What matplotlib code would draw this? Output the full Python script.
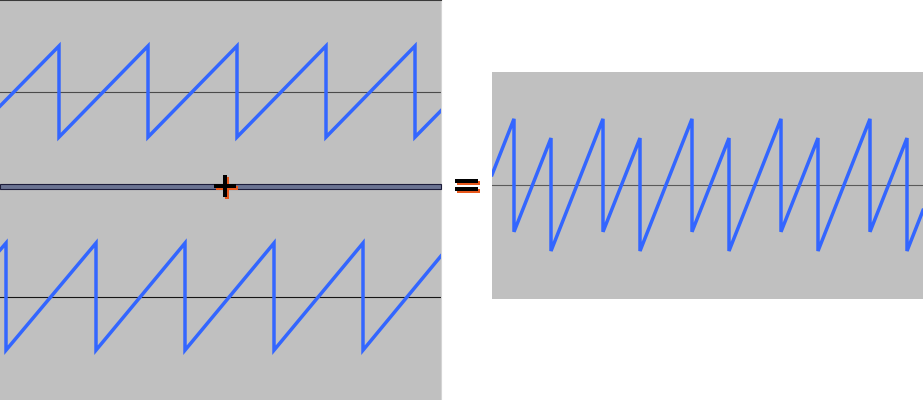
import matplotlib
matplotlib.use("Agg")
import matplotlib.pyplot as plt
import matplotlib.patheffects as pe
from matplotlib.patches import Rectangle

# first wave (top panel): sample index vs normalised amplitude
top_t = [0, 59, 59, 148, 148, 237, 237, 326, 326, 415, 415, 441]
top_v = [-0.32, 1, -1, 1, -1, 1, -1, 1, -1, 1, -1, -0.42]

# second wave (bottom panel)
bot_t = [0, 6, 6, 96, 96, 185, 185, 274, 274, 363, 363, 441]
bot_v = [0.87, 1, -1, 1, -1, 1, -1, 1, -1, 1, -1, 0.76]

# resulting wave (right panel)
sum_t = [0, 22, 22, 59, 59, 111, 111, 148, 148, 200, 200, 237, 237,
         289, 289, 326, 326, 378, 378, 415, 415, 431]
sum_v = [0.18, 1.17, -0.83, 0.83, -1.17, 1.17, -0.83, 0.83, -1.17,
         1.17, -0.83, 0.83, -1.17, 1.17, -0.83, 0.83, -1.17,
         1.17, -0.83, 0.83, -1.17, -0.45]

W, H = 923, 400
BG = "#c0c0c0"
WAVE = "#3366ff"

fig = plt.figure(figsize=(W / 100, H / 100), dpi=100)


def panel(x0, y0, x1, y1):
    # pixel box (top-left origin) -> axes
    ax = fig.add_axes([x0 / W, 1 - y1 / H, (x1 - x0) / W, (y1 - y0) / H])
    ax.set_facecolor(BG)
    ax.set_xticks([])
    ax.set_yticks([])
    for s in ax.spines.values():
        s.set_visible(False)
    return ax


ax1 = panel(0, 0, 441, 184)
ax1.axhline(0, color="#4a4a4a", lw=0.8)
ax1.plot(top_t, top_v, color=WAVE, lw=2.5, solid_joinstyle="miter")
ax1.set_xlim(0, 441)
ax1.set_ylim(-2.03, 2.01)
ax1.spines["top"].set_visible(True)
ax1.spines["top"].set_color("#3a3a3a")
ax1.spines["top"].set_linewidth(1.5)
ax1.spines["right"].set_visible(True)
ax1.spines["right"].set_color("#d4d4d4")
ax1.spines["right"].set_linewidth(0.8)

ax2 = panel(0, 189, 441, 400)
ax2.axhline(0, color="#151515", lw=0.8)
ax2.plot(bot_t, bot_v, color=WAVE, lw=2.5, solid_joinstyle="miter")
ax2.set_xlim(0, 441)
ax2.set_ylim(-1.93, 2.01)
ax2.spines["right"].set_visible(True)
ax2.spines["right"].set_color("#d4d4d4")
ax2.spines["right"].set_linewidth(0.8)

ax3 = panel(492, 72, 923, 299)
ax3.axhline(0, color="#5a5a5a", lw=0.8)
ax3.plot(sum_t, sum_v, color=WAVE, lw=2.5, solid_joinstyle="miter")
ax3.set_xlim(0, 431)
ax3.set_ylim(-2.02, 2.0)

# splitter bar between the two input waves
fig.patches.append(Rectangle((0, 1 - 189 / H), 441 / W, 5 / H,
                             transform=fig.transFigure, facecolor="#6b7392",
                             edgecolor="#1c1c3a", lw=0.8))

# operator signs with orange drop shadow
shadow = [pe.SimplePatchShadow(offset=(1.5, -1.5), shadow_rgbFace="#e8581c", alpha=1),
          pe.Normal()]
for txt, x, y, size in [("+", 225, 186.5, 25), ("=", 466.5, 186, 26)]:
    fig.text(x / W, 1 - y / H, txt, color="black", fontsize=size,
             fontweight="bold", ha="center", va="center", path_effects=shadow)

fig.savefig("out.png", dpi=100)
